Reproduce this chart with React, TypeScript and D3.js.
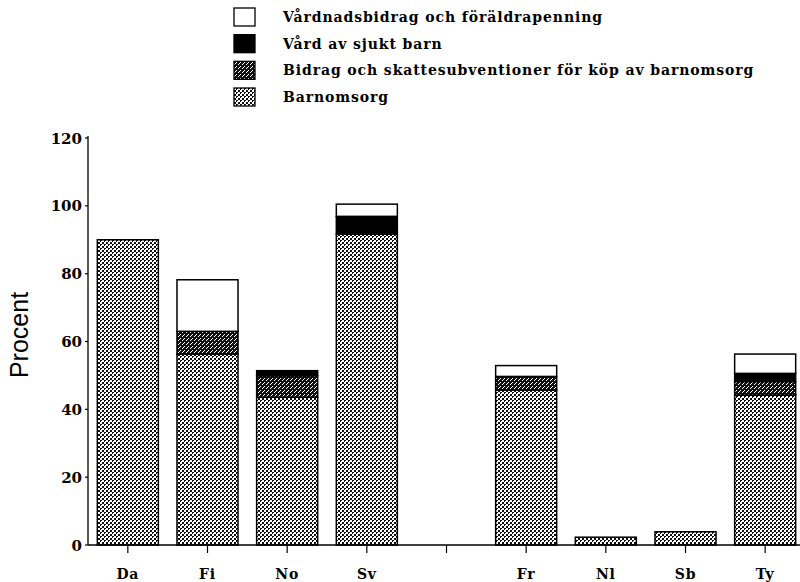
import React from "react";
import * as d3 from "d3";

const categories = ["Da", "Fi", "No", "Sv", "", "Fr", "Nl", "Sb", "Ty"];
const barnomsorg = [90, 56.3, 43.6, 91.7, 0, 45.7, 2.3, 3.9, 44.2];
const bidrag = [0, 6.7, 6.3, 0, 0, 4.0, 0, 0, 4.0];
const sjuktBarn = [0, 0, 1.5, 5.2, 0, 0, 0, 0, 2.4];
const vardnad = [0, 15.2, 0, 3.6, 0, 3.2, 0, 0, 5.7];
const yTicks = [0, 20, 40, 60, 80, 100, 120];
const seriesKeys = ["barnomsorg", "bidrag", "sjukt", "vardnad"];
const legendLabels = [
  "Vårdnadsbidrag och föräldrapenning",
  "Vård av sjukt barn",
  "Bidrag och skattesubventioner för köp av barnomsorg",
  "Barnomsorg",
];
const legendKeys = ["vardnad", "sjukt", "bidrag", "barnomsorg"];

const W = 800;
const H = 582;
const fills: Record<string, string> = {
  barnomsorg: "url(#pLight)",
  bidrag: "url(#pDark)",
  sjukt: "#000",
  vardnad: "#fff",
};
const serif = "'DejaVu Serif', 'Liberation Serif', serif";

export default function App() {
  const x = d3.scaleBand<string>().domain(categories).range([88, 805]).paddingInner(0.234).paddingOuter(0.117);
  const y = d3.scaleLinear().domain([0, 120]).range([545, 138]);
  const rows = categories.map((c, i) => ({
    cat: c,
    barnomsorg: barnomsorg[i],
    bidrag: bidrag[i],
    sjukt: sjuktBarn[i],
    vardnad: vardnad[i],
  }));
  const stack = d3.stack<any>().keys(seriesKeys)(rows);
  const legendY = d3.scalePoint<string>().domain(legendKeys).range([17, 97]);

  return (
    <svg width={W} height={H} style={{ position: "absolute", left: 0, top: 0, background: "#fff" }}>
      <defs>
        <pattern id="pLight" patternUnits="userSpaceOnUse" width="4" height="4">
          <rect width="4" height="4" fill="#fff" />
          <rect x="0" y="0" width="2" height="2" fill="#111" />
          <rect x="2" y="2" width="2" height="2" fill="#111" />
          <rect x="1" y="1" width="1" height="1" fill="#fff" />
        </pattern>
        <pattern id="pDark" patternUnits="userSpaceOnUse" width="4" height="4">
          <rect width="4" height="4" fill="#111" />
          <rect x="2" y="0" width="1" height="1" fill="#fff" />
          <rect x="0" y="2" width="1" height="1" fill="#fff" />
          <rect x="3" y="3" width="1" height="1" fill="#fff" />
        </pattern>
      </defs>
      <rect width={W} height={H} fill="#fff" />

      {/* legend */}
      {legendKeys.map((k, i) => {
        const cy = legendY(k)!;
        return (
          <g key={k}>
            <rect x={234} y={cy - 9} width={21} height={18} fill={fills[k]} stroke="#000" strokeWidth={1.3} />
            <text
              x={283}
              y={cy + 5}
              fontFamily={serif}
              fontWeight="bold"
              fontSize={14}
              letterSpacing={0.9}
              fill="#000"
            >
              {legendLabels[i]}
            </text>
          </g>
        );
      })}

      {/* bars */}
      {stack.map((s) =>
        s.map((d, i) => {
          const h = y(d[0]) - y(d[1]);
          if (h <= 0) return null;
          return (
            <rect
              key={s.key + i}
              x={x(categories[i])!}
              y={y(d[1])}
              width={x.bandwidth()}
              height={h}
              fill={fills[s.key]}
              stroke="#000"
              strokeWidth={1.5}
            />
          );
        })
      )}

      {/* y axis */}
      <line x1={88} x2={88} y1={y(120) - 2} y2={y(0)} stroke="#000" strokeWidth={1.3} />
      {yTicks.map((t) => (
        <g key={t}>
          <line x1={85} x2={88} y1={y(t)} y2={y(t)} stroke="#000" strokeWidth={1.2} />
          <text x={82} y={y(t) + 5.5} textAnchor="end" fontFamily={serif} fontWeight="bold" fontSize={15} fill="#000">
            {t}
          </text>
        </g>
      ))}

      {/* x axis */}
      <line x1={88} x2={800} y1={y(0)} y2={y(0)} stroke="#000" strokeWidth={1.3} />
      {categories.map((c) => {
        const cx = x(c)! + x.bandwidth() / 2;
        return (
          <g key={"t" + c}>
            <line x1={cx} x2={cx} y1={y(0)} y2={y(0) + 8} stroke="#000" strokeWidth={1.2} />
            <text
              x={cx}
              y={579}
              textAnchor="middle"
              fontFamily={serif}
              fontWeight="bold"
              fontSize={14}
              letterSpacing={0.8}
              fill="#000"
            >
              {c}
            </text>
          </g>
        );
      })}

      <text
        transform={`translate(28,335) rotate(-90)`}
        textAnchor="middle"
        fontFamily="'Liberation Sans', Arial, sans-serif"
        fontSize={25}
        fill="#000"
      >
        Procent
      </text>
    </svg>
  );
}
